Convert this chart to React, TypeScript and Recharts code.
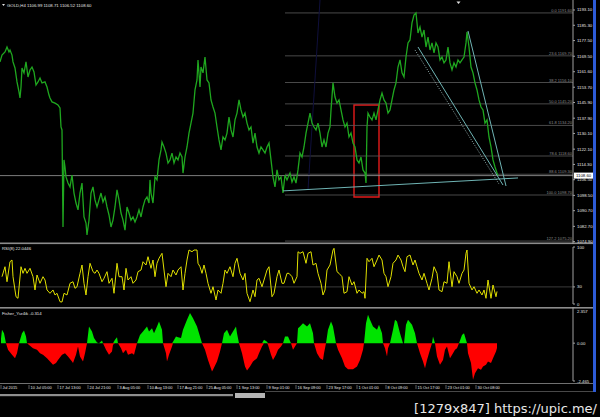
import React from 'react';
import { LineChart, Line, ComposedChart, Area, XAxis, YAxis, ReferenceLine, ReferenceArea } from 'recharts';

// GOLD H4 close, bar index counted from the left edge of the window
const priceBars = [
  0, 2, 5, 7, 9, 10, 12, 13, 15, 17,
  19, 20, 21, 22, 24, 26, 28, 30, 32, 34,
  36, 38, 40, 42, 45, 47, 49, 50, 52, 55,
  58, 60, 61, 62, 63, 64, 65, 66, 68, 70,
  72, 74, 76, 78, 80, 82, 84, 86, 87, 89,
  91, 93, 95, 97, 99, 101, 103, 105, 107, 109,
  111, 113, 115, 117, 119, 121, 123, 125, 127, 129,
  131, 133, 135, 137, 139, 141, 143, 145, 147, 149,
  150, 151, 153, 155, 157, 159, 161, 162, 164, 166,
  168, 170, 172, 174, 176, 178, 180, 182, 183, 185,
  187, 189, 191, 193, 195, 197, 198, 200, 201, 203,
  205, 207, 209, 211, 213, 215, 217, 219, 221, 223,
  225, 227, 229, 231, 233, 235, 237, 239, 241, 243,
  245, 247, 249, 251, 253, 255, 257, 259, 261, 263,
  265, 267, 269, 271, 273, 275, 277, 279, 281, 283,
  285, 287, 290, 292, 294, 296, 298, 300, 302, 304,
  306, 308, 310, 312, 314, 316, 318, 320, 322, 324,
  326, 328, 330, 331, 333, 335, 337, 339, 341, 343,
  345, 347, 349, 351, 353, 355, 357, 359, 361, 363,
  365, 366, 367, 368, 370, 372, 374, 376, 378, 380,
  382, 384, 386, 388, 390, 392, 394, 396, 398, 400,
  402, 404, 406, 408, 410, 412, 414, 416, 418, 420,
  422, 424, 426, 428, 430, 432, 434, 436, 438, 440,
  442, 444, 446, 448, 450, 452, 454, 456, 458, 460,
  462, 464, 466, 467, 469, 471, 473, 475, 477, 479,
  481, 483, 485, 487, 489, 491, 493, 495, 497, 498,
];
const priceClose = [
  1166.6, 1170.1, 1171.7, 1174.2, 1171.7, 1172.7, 1170.1, 1166.6, 1163.5, 1156.4,
  1151.3, 1148.2, 1153.8, 1163.5, 1161.0, 1166.6, 1158.9, 1162.5, 1164.0, 1161.5,
  1154.8, 1156.4, 1158.4, 1155.9, 1156.4, 1153.8, 1149.7, 1148.2, 1146.2, 1145.6,
  1144.6, 1143.1, 1133.4, 1131.9, 1082.4, 1116.6, 1113.0, 1107.9, 1104.8, 1102.8,
  1108.9, 1099.7, 1094.6, 1091.1, 1099.7, 1104.8, 1087.5, 1084.4, 1078.3, 1085.9,
  1099.7, 1102.8, 1096.2, 1092.6, 1096.2, 1099.7, 1095.1, 1097.7, 1092.6, 1088.5,
  1082.4, 1085.9, 1092.6, 1101.3, 1096.2, 1089.5, 1085.9, 1080.8, 1092.6, 1089.5,
  1085.9, 1087.5, 1084.9, 1087.5, 1091.1, 1087.5, 1092.6, 1096.2, 1097.7, 1094.6,
  1106.4, 1099.7, 1094.6, 1107.9, 1106.4, 1116.6, 1121.7, 1125.7, 1123.2, 1120.1,
  1115.0, 1116.6, 1120.1, 1115.0, 1118.1, 1116.6, 1120.1, 1118.1, 1109.9, 1118.1,
  1123.2, 1130.3, 1135.4, 1140.5, 1152.3, 1157.4, 1167.6, 1153.8, 1164.0, 1161.0,
  1169.1, 1157.4, 1155.9, 1147.2, 1143.6, 1140.5, 1133.4, 1126.8, 1121.7, 1128.3,
  1126.8, 1130.3, 1138.5, 1131.9, 1128.3, 1137.0, 1140.5, 1147.2, 1142.1, 1138.5,
  1140.5, 1135.4, 1131.9, 1133.4, 1125.2, 1130.3, 1123.2, 1120.1, 1123.2, 1121.7,
  1120.1, 1123.2, 1125.2, 1116.6, 1107.9, 1102.8, 1111.5, 1106.4, 1107.9, 1099.7,
  1108.9, 1106.4, 1109.9, 1105.3, 1107.9, 1104.8, 1111.5, 1120.1, 1118.1, 1123.2,
  1130.3, 1135.4, 1140.5, 1135.4, 1133.4, 1131.9, 1135.4, 1130.3, 1123.2, 1126.8,
  1123.2, 1130.3, 1133.4, 1142.1, 1155.9, 1148.7, 1145.6, 1147.2, 1142.1, 1137.0,
  1133.4, 1135.4, 1128.3, 1130.3, 1125.2, 1123.2, 1116.6, 1115.0, 1118.1, 1111.5,
  1109.9, 1104.8, 1133.4, 1140.5, 1138.5, 1137.0, 1140.5, 1137.0, 1142.1, 1147.2,
  1150.7, 1147.2, 1145.6, 1140.5, 1142.1, 1147.2, 1152.3, 1155.9, 1164.0, 1167.6,
  1161.0, 1158.9, 1169.1, 1176.3, 1177.8, 1186.5, 1190.5, 1191.6, 1181.4, 1184.4,
  1179.3, 1182.9, 1174.2, 1179.3, 1172.7, 1176.3, 1171.2, 1176.3, 1174.2, 1167.6,
  1169.1, 1166.1, 1167.6, 1174.2, 1166.1, 1162.5, 1166.1, 1164.0, 1167.6, 1166.1,
  1167.6, 1169.1, 1176.3, 1181.9, 1174.2, 1164.0, 1161.0, 1155.9, 1152.3, 1147.2,
  1143.6, 1142.1, 1135.4, 1137.0, 1128.3, 1123.2, 1116.6, 1113.0, 1109.9, 1108.6,
];

// RSI(8)
const rsiBars = [
  2, 5, 7, 10, 12, 13, 16, 18, 21, 23,
  25, 27, 30, 33, 35, 37, 40, 43, 45, 47,
  50, 53, 55, 57, 60, 62, 64, 67, 70, 73,
  75, 77, 80, 82, 84, 86, 88, 90, 93, 95,
  97, 99, 102, 104, 107, 109, 112, 114, 117, 119,
  122, 124, 126, 128, 131, 133, 136, 138, 141, 143,
  146, 148, 151, 153, 155, 157, 159, 162, 164, 166,
  168, 171, 173, 176, 178, 181, 183, 185, 187, 189,
  192, 194, 197, 198, 200, 202, 204, 206, 208, 211,
  213, 216, 218, 221, 223, 225, 227, 230, 233, 235,
  237, 240, 243, 245, 247, 250, 253, 255, 257, 259,
  262, 264, 267, 269, 272, 274, 277, 279, 282, 284,
  287, 289, 292, 294, 297, 298, 300, 303, 306, 308,
  311, 313, 316, 318, 321, 323, 325, 327, 330, 333,
  334, 337, 339, 342, 344, 347, 349, 352, 354, 357,
  359, 362, 364, 365, 367, 369, 372, 374, 377, 379,
  382, 384, 386, 388, 391, 393, 396, 398, 401, 403,
  405, 407, 410, 413, 415, 417, 419, 422, 424, 427,
  429, 432, 434, 437, 439, 442, 444, 447, 449, 452,
  454, 457, 459, 462, 464, 466, 467, 469, 472, 474,
  477, 479, 482, 484, 486, 488, 491, 493, 496, 497,
];
const rsiValues = [
  47.9, 65.4, 39.1, 74.2, 77.2, 47.9, 12.8, 10.0, 65.4, 53.8,
  62.6, 53.8, 62.6, 47.9, 24.6, 50.9, 36.3, 47.9, 42.1, 24.6,
  18.8, 24.6, 15.8, 18.8, 4.0, 3.5, 18.8, 15.8, 36.3, 39.1,
  27.5, 30.3, 53.8, 68.4, 36.3, 15.8, 47.9, 71.4, 56.7, 53.8,
  59.6, 53.8, 39.1, 45.1, 56.7, 36.3, 45.1, 18.8, 71.4, 47.9,
  47.9, 24.6, 62.6, 42.1, 47.9, 36.3, 42.1, 56.7, 59.6, 74.2,
  68.4, 83.0, 62.6, 77.2, 47.9, 71.4, 80.2, 88.9, 59.6, 30.3,
  53.8, 47.9, 59.6, 50.9, 59.6, 65.4, 24.6, 53.8, 77.2, 94.7,
  91.7, 94.7, 94.7, 71.4, 65.4, 53.8, 68.4, 53.8, 36.3, 18.8,
  30.3, 7.0, 24.6, 18.8, 36.3, 59.6, 53.8, 65.4, 47.9, 71.4,
  80.2, 53.8, 42.1, 53.8, 18.8, 4.0, 24.6, 12.8, 42.1, 45.1,
  30.3, 42.1, 59.6, 65.4, 12.8, 18.8, 47.9, 59.6, 36.3, 36.3,
  53.8, 53.8, 47.9, 36.3, 47.9, 91.7, 88.9, 91.7, 71.4, 88.9,
  91.7, 68.4, 71.4, 53.8, 36.3, 15.8, 24.6, 59.6, 68.4, 94.7,
  97.7, 56.7, 53.8, 47.9, 18.8, 21.6, 47.9, 33.3, 39.1, 18.8,
  24.6, 18.8, 21.6, 10.0, 80.2, 74.2, 80.2, 65.4, 77.2, 85.9,
  77.2, 53.8, 47.9, 30.3, 47.9, 71.4, 77.2, 85.9, 77.2, 65.4,
  56.7, 83.0, 85.9, 68.4, 77.2, 65.4, 53.8, 42.1, 53.8, 36.3,
  24.6, 45.1, 65.4, 53.8, 24.6, 21.6, 39.1, 36.3, 74.2, 30.3,
  56.7, 47.9, 36.3, 53.8, 59.6, 88.9, 94.7, 36.3, 24.6, 30.3,
  18.8, 24.6, 15.8, 24.6, 10.0, 42.1, 10.0, 33.3, 12.8, 22.0,
];

// Fisher_Yur4ik
const fisherBars = [
  1, 2, 4, 6, 8, 12, 15, 17, 19, 22,
  24, 26, 27, 30, 33, 37, 40, 43, 47, 50,
  53, 56, 58, 62, 65, 68, 72, 73, 76, 78,
  80, 83, 85, 87, 89, 92, 94, 97, 99, 102,
  103, 106, 109, 112, 113, 115, 117, 118, 121, 123,
  126, 128, 132, 134, 137, 140, 143, 147, 149, 152,
  154, 157, 159, 162, 163, 166, 167, 169, 172, 173,
  176, 178, 181, 183, 187, 190, 193, 197, 200, 202,
  205, 208, 212, 213, 217, 220, 222, 224, 227, 230,
  233, 236, 237, 239, 242, 245, 247, 250, 253, 257,
  259, 262, 264, 267, 268, 271, 273, 276, 278, 281,
  283, 285, 288, 291, 293, 295, 297, 298, 300, 303,
  307, 310, 313, 314, 317, 320, 323, 324, 326, 328,
  331, 333, 336, 338, 342, 345, 348, 353, 357, 360,
  363, 364, 366, 368, 370, 373, 377, 379, 382, 383,
  385, 387, 388, 390, 393, 395, 397, 400, 403, 404,
  406, 408, 412, 415, 417, 420, 423, 425, 427, 430,
  432, 433, 435, 437, 440, 443, 445, 447, 450, 453,
  455, 457, 459, 462, 464, 467, 468, 471, 473, 475,
  478, 481, 483, 486, 488, 491, 493, 496, 497,
];
const fisherValues = [
  0.3, 0.87, 0.65, 0, -0.43, -0.76, -0.98, -0.65, 0, 0.65,
  0.83, 0.43, 0, -0.17, -0.33, -0.43, -0.65, -0.76, -0.98, -1.2,
  -1.41, -1.3, -1.09, -0.76, -0.65, -0.87, -1.2, -1.3, -0.76, -0.22,
  -0.87, -1.2, -0.65, 0, 1.09, 0.76, 0.33, 0.04, 0, 0.17,
  0, -0.43, -0.76, -0.54, -0.1, 0.22, 0.39, 0, -0.33, -0.65,
  -0.43, -0.76, -0.65, -0.76, 0, 0.54, 0.76, 1.09, 0.76, 0.98,
  0.65, 1.09, 1.41, 0.87, 0, -0.65, -1.2, -0.76, -0.22, 0.1,
  0.43, 0.39, 0.33, 0.87, 1.52, 1.96, 1.63, 1.09, 0.43, 0,
  -0.43, -1.09, -1.85, -1.74, -1.2, -0.54, 0, 0.65, 0.87, 0.43,
  0.76, 1.09, 0.65, 0, -0.65, -1.52, -1.78, -1.52, -1.2, -0.98,
  -0.65, -0.22, 0.22, 0.1, -0.1, -0.76, -1.09, -0.76, -0.43, -0.22,
  0, 0.43, 0.43, 0, -0.43, -0.22, 0, 0.98, 1.09, 1.3,
  1.09, 1.3, 0.65, 0, -0.65, -0.98, -1.09, -0.65, 0, 0.87,
  1.41, 1.09, 0, -0.43, -0.98, -1.52, -1.7, -1.7, -1.52, -1.09,
  -0.43, 0, 1.3, 1.85, 1.52, 1.09, 0.87, 1.2, 0.65, 0,
  -0.33, -0.87, -0.33, 0, 0.87, 1.52, 1.41, 0.65, 0, 0,
  1.2, 1.52, 1.2, 0.65, 0, -0.65, -1.2, -1.63, -1.09, -0.43,
  0, 0.43, 0, -0.87, -1.41, -1.09, -0.43, -0.22, -0.98, -0.65,
  -0.43, -0.33, 0, 0.54, 0.65, 0, -0.65, -1.3, -2.39, -1.96,
  -1.63, -1.74, -1.52, -1.41, -1.2, -1.3, -0.98, -0.54, -0.314,
];

const priceTicks = [1193.1, 1185.3, 1177.5, 1169.5, 1161.6, 1153.7, 1145.9, 1137.9, 1130.1, 1122.1, 1114.3, 1106.5, 1098.5, 1090.7, 1082.7, 1074.9];
const rsiTicks = [0, 30, 100];
const fisherTicks = [-2.465, 0, 2.357];

const timeTickBars = [1, 29, 58, 88, 118, 148, 178, 207, 237, 267, 296, 327, 357, 386, 416, 446, 476];
const timeTickLabels = [
  'Jul 2015', '10 Jul 05:00', '17 Jul 13:00', '24 Jul 21:00', '3 Aug 05:00', '10 Aug 13:00',
  '17 Aug 21:00', '25 Aug 05:00', '1 Sep 13:00', '9 Sep 01:00', '16 Sep 09:00', '23 Sep 17:00',
  '1 Oct 01:00', '8 Oct 09:00', '15 Oct 17:00', '23 Oct 01:00', '30 Oct 08:00',
];

// fibonacci grid drawn from the 9 Sep low to the 15 Oct high
const fibStartBar = 285;
const fibLevels = ['0.0', '23.6', '38.2', '50.0', '61.8', '78.6', '88.6', '100.0', '127.2'];
const fibPrices = [1191.6, 1169.7, 1156.1, 1145.2, 1134.2, 1118.6, 1109.3, 1098.7, 1075.2];

// hand drawn trend lines: [bar, price] end points
const trendFrom = [[283, 1100.8], [468, 1182.4], [418, 1174.2]];
const trendTo = [[518, 1107.4], [506, 1103.3], [503, 1103.8]];
const dottedFrom = [415, 1172.7];
const dottedTo = [499, 1104.3];
const fibDiagFrom = [308, 1101.3];
const fibDiagTo = [320, 1198.2];

// red box around the 1 Oct spike: bars and prices
const boxBars = [354, 379];
const boxPrices = [1097.7, 1144.6];

const FONT = "'Liberation Sans', Arial, sans-serif";
const AXIS = '#a0a0a0';
const TEXT = '#e6e6e6';
const PLOT_END = 573;

const lastPrice = priceClose[priceClose.length - 1];
const priceData = priceBars.map((bar, i) => ({ bar, close: priceClose[i] }));
const rsiData = rsiBars.map((bar, i) => ({ bar, rsi: rsiValues[i] }));
const fisherData = fisherBars.map((bar, i) => ({
  bar,
  up: Math.max(fisherValues[i], 0),
  down: Math.min(fisherValues[i], 0),
}));

const PriceTick = ({ x, y, payload }: any) => (
  <text x={x} y={y} dy={1.5} fill={TEXT} fontSize={4.3} fontFamily={FONT}>
    {payload.value.toFixed(2)}
  </text>
);

const RsiTick = ({ x, y, payload }: any) => (
  <text x={x} y={y} dy={1.5} fill={TEXT} fontSize={4.3} fontFamily={FONT}>
    {payload.value}
  </text>
);

const FisherTick = ({ x, y, payload }: any) => {
  const v = payload.value;
  const shift = v > 0 ? 4 : 0;
  return (
    <text x={x} y={y + shift} dy={1.5} fill={TEXT} fontSize={4.3} fontFamily={FONT}>
      {v === 0 ? '0.00' : String(v)}
    </text>
  );
};

const TimeTick = ({ x, y, payload }: any) => {
  const label = timeTickLabels[timeTickBars.indexOf(payload.value)];
  return (
    <g>
      <line x1={x} x2={x} y1={y - 3} y2={y + 1} stroke={AXIS} strokeWidth={0.6} />
      <text x={x + 1.5} y={y} dy={1.4} fill={TEXT} fontSize={3.9} fontFamily={FONT}>
        {label}
      </text>
    </g>
  );
};

const PriceTag = ({ viewBox }: any) => {
  const x = viewBox.x + viewBox.width;
  const y = viewBox.y;
  return (
    <g>
      <rect x={x + 1} y={y - 3} width={19} height={6} fill="#ffffff" />
      <text x={x + 3} y={y} dy={1.5} fontSize={4.3} fontFamily={FONT} fill="#000">
        {lastPrice.toFixed(2)}
      </text>
    </g>
  );
};

const App: React.FC = () => {
  const trendColor = '#6fb4b4';
  return (
    <div style={{ position: 'absolute', left: 0, top: 0, width: 600, height: 417, background: '#000', overflow: 'hidden' }}>
      <svg width={600} height={417} style={{ position: 'absolute', left: 0, top: 0 }}>
        <rect x={0} y={242.5} width={593} height={1.6} fill="#8c8c8c" />
        <rect x={0} y={307} width={593} height={1.6} fill="#8c8c8c" />
        <rect x={0} y={383} width={593} height={0.8} fill="#8c8c8c" />
        <rect x={265} y={391} width={328} height={0.8} fill="#5a5a5a" />
        <rect x={0} y={394} width={233} height={2.2} fill="#8e8e8e" />
        <rect x={235} y={393} width={30} height={5} fill="#b4b4b4" />
        <rect x={593} y={0} width={3} height={392} fill="#2d5bd6" />
      </svg>

      <div style={{ position: 'absolute', left: 0, top: 0 }}>
        <LineChart width={600} height={244} data={priceData} margin={{ top: 0, right: 0, bottom: 0, left: 0 }}>
          <XAxis dataKey="bar" type="number" domain={[0, PLOT_END]} hide allowDataOverflow />
          <YAxis
            orientation="right"
            domain={[1073.7, 1198.2]}
            ticks={priceTicks}
            interval={0}
            width={27}
            allowDataOverflow
            axisLine={{ stroke: AXIS }}
            tickLine={{ stroke: AXIS }}
            tickSize={2}
            tickMargin={2}
            tick={<PriceTick />}
          />
          {fibPrices.map((p, i) => (
            <ReferenceLine
              key={`fib-${i}`}
              segment={[{ x: fibStartBar, y: p }, { x: PLOT_END, y: p }]}
              stroke="#5c5c5c"
              strokeWidth={0.8}
              label={{
                value: `${fibLevels[i]} ${p.toFixed(2)}`,
                position: 'insideBottomRight',
                offset: 1,
                fill: '#8a8a8a',
                fontSize: 4,
                fontFamily: FONT,
              }}
            />
          ))}
          <ReferenceLine
            segment={[{ x: fibDiagFrom[0], y: fibDiagFrom[1] }, { x: fibDiagTo[0], y: fibDiagTo[1] }]}
            stroke="#0f0f3c"
            strokeWidth={1}
          />
          <ReferenceLine y={lastPrice} stroke="#9a9a9a" strokeWidth={0.8} label={<PriceTag />} />
          <Line
            type="linear"
            dataKey="close"
            stroke="#1fa71f"
            strokeWidth={1.3}
            dot={false}
            activeDot={false}
            isAnimationActive={false}
          />
          {trendFrom.map((f, i) => (
            <ReferenceLine
              key={`trend-${i}`}
              segment={[{ x: f[0], y: f[1] }, { x: trendTo[i][0], y: trendTo[i][1] }]}
              stroke={trendColor}
              strokeWidth={1}
            />
          ))}
          <ReferenceLine
            segment={[{ x: dottedFrom[0], y: dottedFrom[1] }, { x: dottedTo[0], y: dottedTo[1] }]}
            stroke="#b8d8d8"
            strokeWidth={0.8}
            strokeDasharray="1 1.5"
          />
          <ReferenceArea
            x1={boxBars[0]}
            x2={boxBars[1]}
            y1={boxPrices[0]}
            y2={boxPrices[1]}
            fill="none"
            fillOpacity={0}
            stroke="#e41a1a"
            strokeWidth={1.4}
          />
        </LineChart>
      </div>

      <div style={{ position: 'absolute', left: 0, top: 245 }}>
        <LineChart width={600} height={62} data={rsiData} margin={{ top: 2, right: 0, bottom: 3, left: 0 }}>
          <XAxis dataKey="bar" type="number" domain={[0, PLOT_END]} hide allowDataOverflow />
          <YAxis
            orientation="right"
            domain={[0, 100]}
            ticks={rsiTicks}
            interval={0}
            width={27}
            allowDataOverflow
            axisLine={{ stroke: AXIS }}
            tickLine={{ stroke: AXIS }}
            tickSize={2}
            tickMargin={2}
            tick={<RsiTick />}
          />
          <ReferenceLine y={30} stroke="#4a4a4a" strokeWidth={0.8} />
          <Line
            type="linear"
            dataKey="rsi"
            stroke="#e0e000"
            strokeWidth={1}
            dot={false}
            activeDot={false}
            isAnimationActive={false}
          />
        </LineChart>
      </div>

      <div style={{ position: 'absolute', left: 0, top: 307 }}>
        <ComposedChart width={600} height={87} data={fisherData} margin={{ top: 0, right: 0, bottom: 0, left: 0 }}>
          <XAxis
            dataKey="bar"
            type="number"
            domain={[0, PLOT_END]}
            allowDataOverflow
            ticks={timeTickBars}
            interval={0}
            height={13}
            axisLine={false}
            tickLine={false}
            tickSize={5}
            tickMargin={2}
            tick={<TimeTick />}
          />
          <YAxis
            orientation="right"
            domain={[-2.465, 2.357]}
            ticks={fisherTicks}
            interval={0}
            width={27}
            allowDataOverflow
            axisLine={{ stroke: AXIS }}
            tickLine={{ stroke: AXIS }}
            tickSize={2}
            tickMargin={2}
            tick={<FisherTick />}
          />
          <Area
            type="linear"
            dataKey="up"
            baseValue={0}
            stroke="none"
            fill="#00e400"
            fillOpacity={1}
            dot={false}
            activeDot={false}
            isAnimationActive={false}
          />
          <Area
            type="linear"
            dataKey="down"
            baseValue={0}
            stroke="none"
            fill="#ff0000"
            fillOpacity={1}
            dot={false}
            activeDot={false}
            isAnimationActive={false}
          />
        </ComposedChart>
      </div>

      <svg width={600} height={417} style={{ position: 'absolute', left: 0, top: 0, pointerEvents: 'none' }}>
        <polygon points="2,4 5,4 3.5,6" fill="#e0e0e0" />
        <text x={7} y={6.5} fill={TEXT} fontSize={4.3} fontFamily={FONT}>
          GOLD,H4 1106.99 1108.71 1106.52 1108.60
        </text>
        <polygon points="456.5,1.5 460.5,1.5 458.5,4" fill="#e0e0e0" />
        <text x={2} y={249.5} fill={TEXT} fontSize={4.3} fontFamily={FONT}>
          RSI(8) 22.0446
        </text>
        <text x={2} y={314.8} fill={TEXT} fontSize={4.3} fontFamily={FONT}>
          Fisher_Yur4ik -0.314
        </text>
        <text x={597} y={413} textAnchor="end" fill="#e8e8e8" fontSize={13} fontFamily="'DejaVu Sans', sans-serif">
          [1279x847] https://upic.me/
        </text>
      </svg>
    </div>
  );
};

export default App;
